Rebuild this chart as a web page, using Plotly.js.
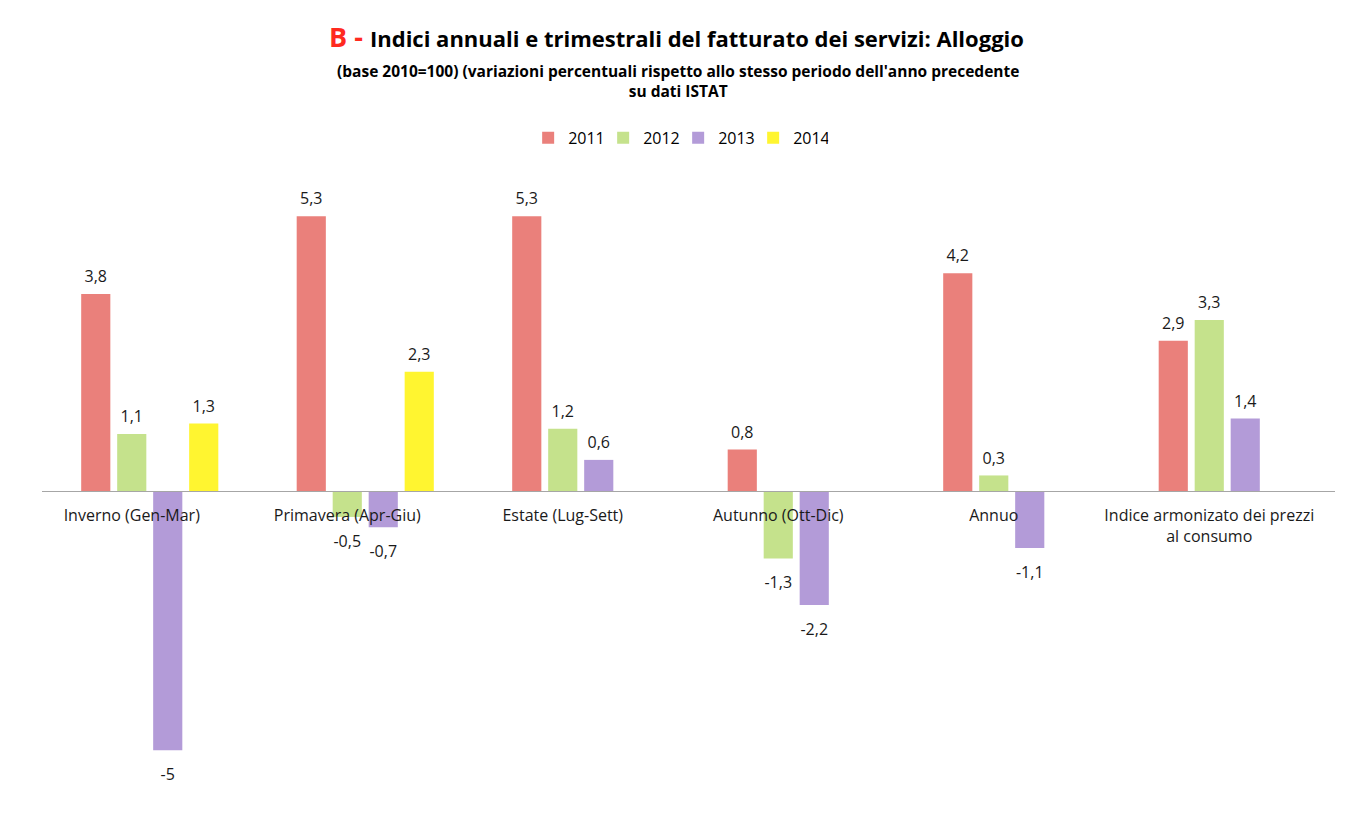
<!DOCTYPE html>
<html>
<head>
<meta charset="utf-8">
<script src="https://cdn.plot.ly/plotly-3.0.1.min.js"></script>
<style>html,body{margin:0;padding:0;background:#fff;}#chart{width:1353px;height:823px;}</style>
</head>
<body>
<div id="chart"></div>
<script>
const categories = ["Inverno (Gen-Mar)", "Primavera (Apr-Giu)", "Estate (Lug-Sett)", "Autunno (Ott-Dic)", "Annuo", "Indice armonizato dei prezzi<br>al consumo"];
const seriesNames = ["2011", "2012", "2013", "2014"];
const v2011 = [3.8, 5.3, 5.3, 0.8, 4.2, 2.9];
const v2012 = [1.1, -0.5, 1.2, -1.3, 0.3, 3.3];
const v2013 = [-5, -0.7, 0.6, -2.2, -1.1, 1.4];
const v2014 = [1.3, 2.3, null, null, null, null];
const colors = ["#ea807b", "#c5e28c", "#b39bd8", "#fff530"];

const FONT = "Open Sans, Liberation Sans, sans-serif";
const allValues = [v2011, v2012, v2013, v2014];
const fmt = v => (v === null ? "" : String(v).replace(".", ","));
const BARGAP = 0.332;

const barTraces = allValues.map((vals, i) => ({
  type: "bar",
  name: seriesNames[i],
  x: categories,
  y: vals,
  marker: {color: colors[i], line: {width: 0}},
  hoverinfo: "x+y+name"
}));

// value labels: same grouping as the bars, above positive / below negative bars
const labelTraces = allValues.map((vals, i) => ({
  type: "scatter",
  mode: "markers+text",
  name: seriesNames[i],
  showlegend: false,
  x: categories,
  y: vals,
  text: vals.map(fmt),
  textposition: vals.map(v => (v !== null && v < 0 ? "bottom center" : "top center")),
  marker: {size: vals.map(v => (v !== null && v < 0 ? 27 : 11)), color: "rgba(0,0,0,0)", line: {width: 0}},
  cliponaxis: false,
  textfont: {family: FONT, size: 16, color: "#1a1a1a"},
  hoverinfo: "skip"
}));

const layout = {
  width: 1353,
  height: 823,
  paper_bgcolor: "#fff",
  plot_bgcolor: "#fff",
  font: {family: FONT, size: 15, color: "#1a1a1a"},
  margin: {l: 42, r: 18, t: 160, b: 33},
  barmode: "group",
  bargap: BARGAP,
  bargroupgap: 0.19,
  scattermode: "group",
  scattergap: BARGAP,
  title: {
    text: "<b><span style='color:#ff2a1f;font-size:27px'>B - </span>Indici annuali e trimestrali del fatturato dei servizi: Alloggio</b>",
    font: {family: FONT, size: 22, color: "#000"},
    x: 0.5, xanchor: "center",
    y: 0.952, yanchor: "middle", yref: "container"
  },
  annotations: [{
    text: "<b>(base 2010=100) (variazioni percentuali rispetto allo stesso periodo dell'anno precedente<br>su dati ISTAT</b>",
    xref: "paper", yref: "paper",
    x: 0.492, xanchor: "center",
    y: 1.1254, yanchor: "middle",
    showarrow: false,
    align: "center",
    font: {family: FONT, size: 15.5, color: "#000"}
  }],
  legend: {
    orientation: "h",
    x: 0.492, xanchor: "center",
    y: 1.035, yanchor: "middle",
    font: {family: FONT, size: 16, color: "#000"},
    entrywidth: 30,
    entrywidthmode: "pixels"
  },
  xaxis: {
    type: "category",
    anchor: "free",
    position: 0.4746,
    showline: true,
    linecolor: "#a6a6a6",
    linewidth: 1,
    ticks: "",
    showgrid: false,
    zeroline: false,
    ticklabelshift: -18,
    ticklabelstandoff: 10,
    tickfont: {family: FONT, size: 16, color: "#1a1a1a"}
  },
  yaxis: {
    range: [-5.767, 6.384],
    visible: false,
    showgrid: false,
    zeroline: false
  },
  showlegend: true
};

Plotly.newPlot("chart", barTraces.concat(labelTraces), layout, {displayModeBar: false, staticPlot: true});
</script>
</body>
</html>
